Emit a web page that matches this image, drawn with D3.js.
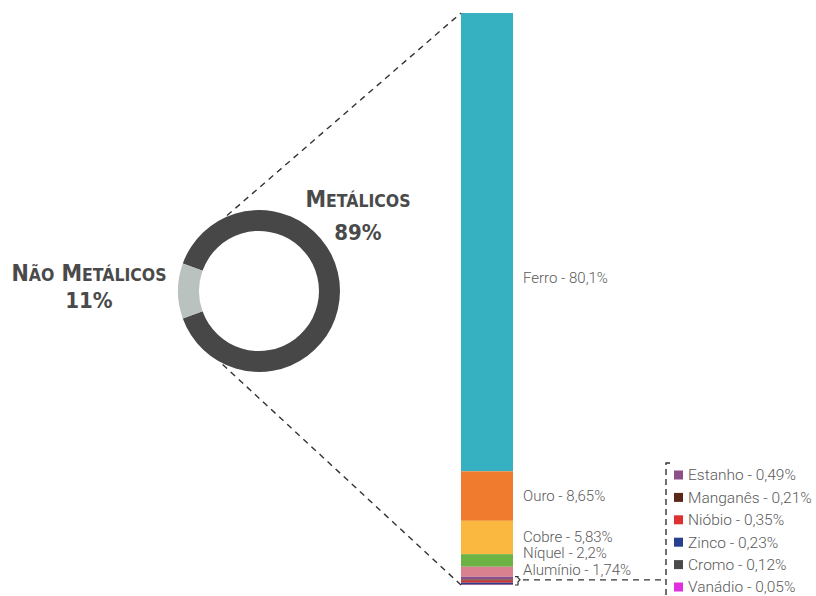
<!DOCTYPE html>
<html>
<head>
<meta charset="utf-8">
<style>
  body { margin: 0; background: #fff; }
  svg text { font-family: Roboto, "DejaVu Sans", sans-serif; }
</style>
<title>Metálicos</title>
</head>
<body>
<script src="https://cdn.jsdelivr.net/npm/d3@7"></script>
<script>

// donut: metálicos x não metálicos
var groups = ["Metálicos", "Não Metálicos"];
var groupValues = [89, 11];
var groupColors = ["#474747", "#b9c2be"];

// bar: composição dos metálicos (top to bottom)
var metals = ["Ferro", "Ouro", "Cobre", "Níquel", "Alumínio", "Estanho", "Manganês", "Nióbio", "Zinco", "Cromo", "Vanádio"];
var metalValues = [80.1, 8.65, 5.83, 2.2, 1.74, 0.49, 0.21, 0.35, 0.23, 0.12, 0.05];
var metalLabels = ["80,1%", "8,65%", "5,83%", "2,2%", "1,74%", "0,49%", "0,21%", "0,35%", "0,23%", "0,12%", "0,05%"];
var metalColors = ["#36b1c2", "#f07b2e", "#fbb840", "#6db344", "#d9818f", "#8c4f88", "#5a2818", "#df3030", "#26408f", "#4a4a4a", "#e02fdf"];

var width = 816, height = 596;
var svg = d3.select("body").append("svg")
  .attr("width", width)
  .attr("height", height);

// ---- donut
var cx = 259, cy = 291, rOut = 81, rIn = 60;
var notShare = groupValues[1] / d3.sum(groupValues);
var start = 1.5 * Math.PI - 2 * Math.PI * (1 - notShare / 2);
var pie = d3.pie().sort(null).startAngle(start).endAngle(start + 2 * Math.PI);
var arc = d3.arc().innerRadius(rIn).outerRadius(rOut);

var donut = svg.append("g").attr("transform", "translate(" + cx + "," + cy + ")");
donut.selectAll("path")
  .data(pie(groupValues))
  .enter().append("path")
  .attr("d", arc)
  .attr("fill", function(d, i) { return groupColors[i]; });

// small-caps style labels
var capsFont = "'DejaVu Sans Condensed', 'DejaVu Sans', sans-serif";
function capsLabel(x, y, words) {
  var t = svg.append("text")
    .attr("x", x).attr("y", y)
    .attr("text-anchor", "middle")
    .attr("fill", "#4a4a4a")
    .style("font-family", capsFont)
    .style("font-weight", "bold");
  words.forEach(function(w, i) {
    t.append("tspan").style("font-size", "23px").text((i ? " " : "") + w[0].toUpperCase());
    t.append("tspan").style("font-size", "17.5px").text(w.slice(1).toUpperCase());
  });
  return t;
}
function pctLabel(x, y, v) {
  svg.append("text").attr("x", x).attr("y", y).attr("text-anchor", "middle")
    .attr("fill", "#4a4a4a").style("font-family", capsFont)
    .style("font-weight", "bold").style("font-size", "22px").text(v + "%");
}
capsLabel(358, 207, ["Metálicos"]);
pctLabel(358, 240, groupValues[0]);
capsLabel(89, 281, ["Não", "Metálicos"]);
pctLabel(89, 308, groupValues[1]);

// ---- stacked bar
var barX = 461, barW = 52, barTop = 13, barBottom = 585;
var total = d3.sum(metalValues);
var y = d3.scaleLinear().domain([0, total]).range([barTop, barBottom]);

var cum = 0;
var segs = metals.map(function(m, i) {
  var s = { name: m, value: metalValues[i], label: metalLabels[i], color: metalColors[i], y0: cum };
  cum += metalValues[i];
  s.y1 = cum;
  return s;
});

svg.append("g").selectAll("rect")
  .data(segs)
  .enter().append("rect")
  .attr("x", barX)
  .attr("width", barW)
  .attr("y", function(d) { return y(d.y0); })
  .attr("height", function(d) { return y(d.y1) - y(d.y0); })
  .attr("fill", function(d) { return d.color; });

// labels for the five largest, pushed apart from the bottom up
var big = segs.slice(0, 5);
var ly = big.map(function(d) { return (y(d.y0) + y(d.y1)) / 2; });
ly[0] += 36;
ly[4] -= 2;
for (var i = big.length - 2; i >= 0; i--) {
  if (ly[i] > ly[i + 1] - 16.5) ly[i] = ly[i + 1] - 16.5;
}
svg.append("g").selectAll("text")
  .data(big)
  .enter().append("text")
  .attr("x", barX + barW + 10)
  .attr("y", function(d, i) { return ly[i]; })
  .attr("dy", "0.35em")
  .attr("fill", "#5a5a5a")
  .style("font-size", "15px")
  .style("font-weight", 300)
  .text(function(d) { return d.name + " - " + d.label; });

// ---- dashed connectors
var dash = "6,5";
function onRing(a) { return [cx + (rOut + 1) * Math.sin(a), cy - (rOut + 1) * Math.cos(a)]; }
var pTop = onRing(-0.4), pBot = onRing(Math.PI + 0.46);
svg.append("line")
  .attr("x1", pTop[0]).attr("y1", pTop[1]).attr("x2", barX).attr("y2", barTop)
  .attr("stroke", "#333").attr("stroke-width", 1.4).attr("stroke-dasharray", dash);
svg.append("line")
  .attr("x1", pBot[0]).attr("y1", pBot[1]).attr("x2", barX).attr("y2", barBottom)
  .attr("stroke", "#333").attr("stroke-width", 1.4).attr("stroke-dasharray", dash);

// bracket around the small metals
var small = segs.slice(5);
var sTop = y(small[0].y0), sBot = y(small[small.length - 1].y1), sMid = (sTop + sBot) / 2 - 1;
var bx = barX + barW + 2;
svg.append("path")
  .attr("d", "M" + bx + "," + sTop + " h3 v" + (sMid - sTop - 2) + " l2,2 l-2,2 V" + sBot + " h-3")
  .attr("fill", "none").attr("stroke", "#333").attr("stroke-width", 1.2);

var legX = 666, legTop = 463;
svg.append("line")
  .attr("x1", bx + 8).attr("y1", sMid).attr("x2", legX).attr("y2", sMid)
  .attr("stroke", "#333").attr("stroke-width", 1.4).attr("stroke-dasharray", dash);
svg.append("path")
  .attr("d", "M" + (legX + 4) + "," + legTop + " H" + legX + " V" + height)
  .attr("fill", "none").attr("stroke", "#333").attr("stroke-width", 1.4).attr("stroke-dasharray", "6,4");

// ---- legend of the small metals
var legStep = 22.4;
var leg = svg.append("g").selectAll("g")
  .data(small)
  .enter().append("g")
  .attr("transform", function(d, i) { return "translate(" + (legX + 8) + "," + (475 + i * legStep) + ")"; });
leg.append("rect")
  .attr("x", 0).attr("y", -4.5).attr("width", 9).attr("height", 9)
  .attr("fill", function(d) { return d.color; });
leg.append("text")
  .attr("x", 14).attr("dy", "0.35em")
  .attr("fill", "#5a5a5a")
  .style("font-size", "15.5px")
  .style("font-weight", 300)
  .text(function(d) { return d.name + " - " + d.label; });

</script>
</body>
</html>
